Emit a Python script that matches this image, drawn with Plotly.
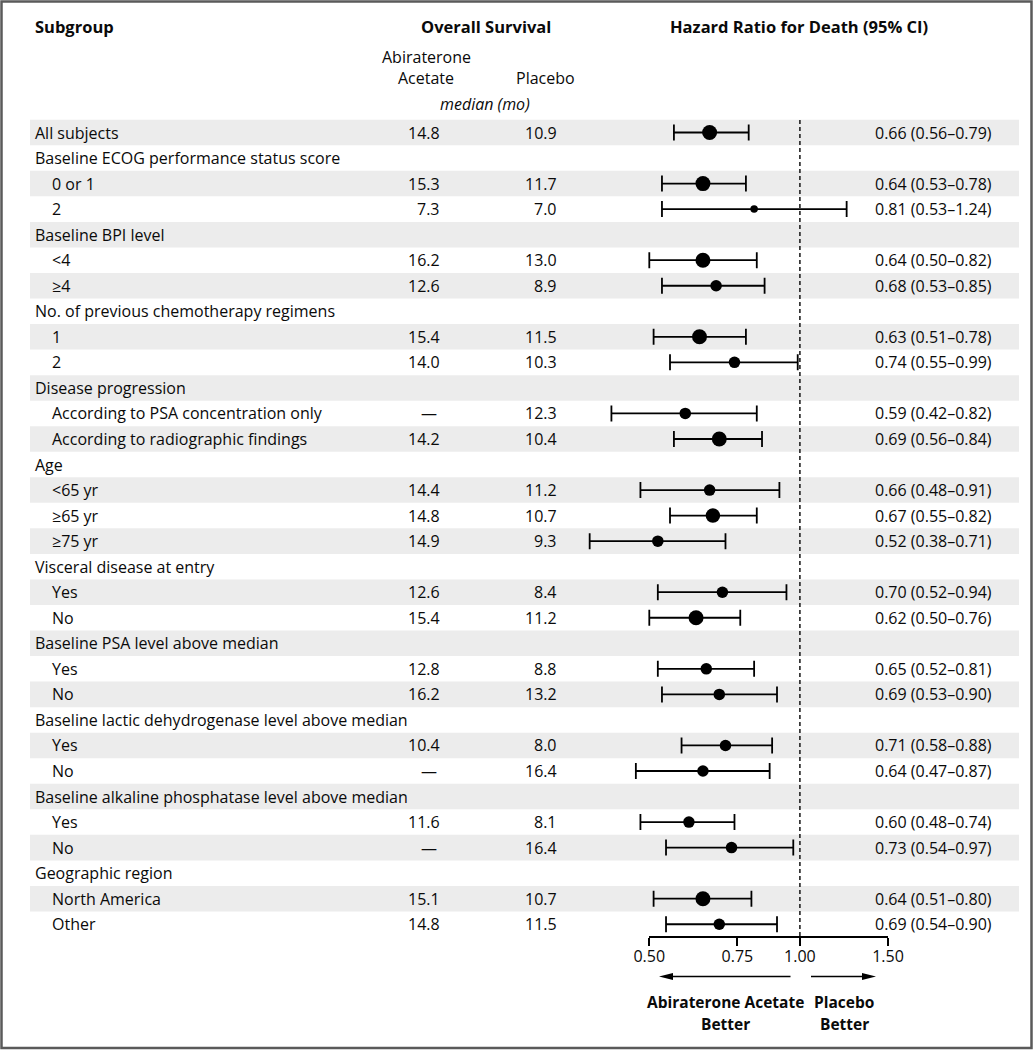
import math
import plotly.graph_objects as go

# ---------------- data ----------------
subgroups = [
    "All subjects",
    "Baseline ECOG performance status score", "0 or 1", "2",
    "Baseline BPI level", "<4", "≥4",
    "No. of previous chemotherapy regimens", "1", "2",
    "Disease progression", "According to PSA concentration only", "According to radiographic findings",
    "Age", "<65 yr", "≥65 yr", "≥75 yr",
    "Visceral disease at entry", "Yes", "No",
    "Baseline PSA level above median", "Yes", "No",
    "Baseline lactic dehydrogenase level above median", "Yes", "No",
    "Baseline alkaline phosphatase level above median", "Yes", "No",
    "Geographic region", "North America", "Other",
]
level = [0,
         0, 1, 1,
         0, 1, 1,
         0, 1, 1,
         0, 1, 1,
         0, 1, 1, 1,
         0, 1, 1,
         0, 1, 1,
         0, 1, 1,
         0, 1, 1,
         0, 1, 1]
abiraterone_median = [14.8,
                      None, 15.3, 7.3,
                      None, 16.2, 12.6,
                      None, 15.4, 14.0,
                      None, "—", 14.2,
                      None, 14.4, 14.8, 14.9,
                      None, 12.6, 15.4,
                      None, 12.8, 16.2,
                      None, 10.4, "—",
                      None, 11.6, "—",
                      None, 15.1, 14.8]
placebo_median = [10.9,
                  None, 11.7, 7.0,
                  None, 13.0, 8.9,
                  None, 11.5, 10.3,
                  None, 12.3, 10.4,
                  None, 11.2, 10.7, 9.3,
                  None, 8.4, 11.2,
                  None, 8.8, 13.2,
                  None, 8.0, 16.4,
                  None, 8.1, 16.4,
                  None, 10.7, 11.5]
hazard_ratio = [0.66,
                None, 0.64, 0.81,
                None, 0.64, 0.68,
                None, 0.63, 0.74,
                None, 0.59, 0.69,
                None, 0.66, 0.67, 0.52,
                None, 0.70, 0.62,
                None, 0.65, 0.69,
                None, 0.71, 0.64,
                None, 0.60, 0.73,
                None, 0.64, 0.69]
ci_low = [0.56,
          None, 0.53, 0.53,
          None, 0.50, 0.53,
          None, 0.51, 0.55,
          None, 0.42, 0.56,
          None, 0.48, 0.55, 0.38,
          None, 0.52, 0.50,
          None, 0.52, 0.53,
          None, 0.58, 0.47,
          None, 0.48, 0.54,
          None, 0.51, 0.54]
ci_high = [0.79,
           None, 0.78, 1.24,
           None, 0.82, 0.85,
           None, 0.78, 0.99,
           None, 0.82, 0.84,
           None, 0.91, 0.82, 0.71,
           None, 0.94, 0.76,
           None, 0.81, 0.90,
           None, 0.88, 0.87,
           None, 0.74, 0.97,
           None, 0.80, 0.90]
# marker diameter per row (style)
marker_px = [15,
             0, 15, 7.5,
             0, 15, 11.5,
             0, 15, 11.5,
             0, 11.5, 15,
             0, 11.5, 14.5, 11.5,
             0, 11.5, 15,
             0, 11.5, 11.5,
             0, 11.5, 11.5,
             0, 11.5, 11.5,
             0, 15, 11.5]

tick_values = [0.50, 0.75, 1.00, 1.50]
tick_labels = ["0.50", "0.75", "1.00", "1.50"]

# ---------------- geometry ----------------
W, H = 1033, 1050
ROW0_PX, ROW_STEP = 132.5, 25.54          # pixel centre of row 1, row pitch
X050_PX, X150_PX = 649.3, 888.0            # pixel positions of 0.50 and 1.50
AXIS_PX = 937.0

px_per_dec = (X150_PX - X050_PX) / (math.log10(1.5) - math.log10(0.5))
xr0 = math.log10(0.5) - X050_PX / px_per_dec
xr1 = math.log10(1.5) + (W - X150_PX) / px_per_dec
yr_top = 1 - ROW0_PX / ROW_STEP
yr_bot = 1 + (H - ROW0_PX) / ROW_STEP


def px(xp):
    return xp / W


def py(yp):
    return 1 - yp / H


FONT = "Open Sans"
INK = "#0a0a0a"
FS = 16
rows = list(range(1, len(subgroups) + 1))

fig = go.Figure()

# forest points
d_idx = [i for i in range(len(rows)) if hazard_ratio[i] is not None]
fig.add_trace(go.Scatter(
    x=[hazard_ratio[i] for i in d_idx],
    y=[rows[i] for i in d_idx],
    mode="markers",
    marker=dict(size=[marker_px[i] for i in d_idx], color="black", opacity=1,
                line=dict(width=0)),
    error_x=dict(type="data", symmetric=False,
                 array=[ci_high[i] - hazard_ratio[i] for i in d_idx],
                 arrayminus=[hazard_ratio[i] - ci_low[i] for i in d_idx],
                 color="black", thickness=1.8, width=8),
    hoverinfo="skip", showlegend=False,
))

# invisible trace to host the visible axis
fig.add_trace(go.Scatter(x=[0.5, 1.5], y=[rows[0], rows[0]], xaxis="x2", yaxis="y",
                         mode="markers", marker=dict(opacity=0), hoverinfo="skip",
                         showlegend=False))

shapes = []
# alternating stripes
for i, r in enumerate(rows):
    if r % 2 == 1:
        shapes.append(dict(type="rect", xref="paper", yref="y",
                           x0=px(30), x1=px(1019), y0=r - 0.5, y1=r + 0.5,
                           fillcolor="#ececec", line=dict(width=0), layer="below"))
# reference line at HR = 1
shapes.append(dict(type="line", xref="x", yref="paper", x0=1, x1=1,
                   y0=py(120), y1=py(AXIS_PX),
                   line=dict(color="#222222", width=1.6, dash="4px,3px")))
# arrows
ARW_Y = 976.5
shapes.append(dict(type="line", xref="paper", yref="paper",
                   x0=px(790.5), x1=px(670), y0=py(ARW_Y), y1=py(ARW_Y),
                   line=dict(color="black", width=1.5)))
shapes.append(dict(type="path", xref="paper", yref="paper",
                   path=f"M{px(659)},{py(ARW_Y)} L{px(673)},{py(ARW_Y - 3.5)} L{px(673)},{py(ARW_Y + 3.5)} Z",
                   fillcolor="black", line=dict(width=0)))
shapes.append(dict(type="line", xref="paper", yref="paper",
                   x0=px(811), x1=px(864), y0=py(ARW_Y), y1=py(ARW_Y),
                   line=dict(color="black", width=1.5)))
shapes.append(dict(type="path", xref="paper", yref="paper",
                   path=f"M{px(876)},{py(ARW_Y)} L{px(862)},{py(ARW_Y - 3.5)} L{px(862)},{py(ARW_Y + 3.5)} Z",
                   fillcolor="black", line=dict(width=0)))
# frame
shapes.append(dict(type="rect", xref="paper", yref="paper",
                   x0=px(1.5), x1=px(1031.5), y0=py(1.5), y1=py(1048),
                   line=dict(color="#5a5a5a", width=2.5), fillcolor="rgba(0,0,0,0)"))

ann = []


def text(x, y, s, xanchor="left", yref="y", size=FS, bold=False, italic=False):
    if bold:
        s = f"<b>{s}</b>"
    if italic:
        s = f"<i>{s}</i>"
    ann.append(dict(x=x, y=y, xref="paper", yref=yref, text=s, showarrow=False,
                    xanchor=xanchor, yanchor="middle",
                    font=dict(family=FONT, size=size, color=INK)))


def fmt(v):
    if v is None:
        return None
    if isinstance(v, str):
        return v
    return f"{v:.1f}"


for i, r in enumerate(rows):
    text(px(33 if level[i] == 0 else 50), r, subgroups[i])
    a = fmt(abiraterone_median[i])
    if a is not None:
        if a == "—":
            text(px(429), r, a, xanchor="center")
        else:
            text(px(442), r, a, xanchor="right")
    p = fmt(placebo_median[i])
    if p is not None:
        text(px(559), r, p, xanchor="right")
    if hazard_ratio[i] is not None:
        text(px(873), r, f"{hazard_ratio[i]:.2f} ({ci_low[i]:.2f}–{ci_high[i]:.2f})")

# column headers
text(px(33), py(27), "Subgroup", yref="paper", bold=True, size=16.5)
text(px(486), py(27), "Overall Survival", xanchor="center", yref="paper", bold=True, size=16.5)
text(px(798.5), py(27), "Hazard Ratio for Death (95% CI)", xanchor="center", yref="paper", bold=True, size=16.5)
text(px(426), py(57), "Abiraterone", xanchor="center", yref="paper")
text(px(426), py(78), "Acetate", xanchor="center", yref="paper")
text(px(545), py(78), "Placebo", xanchor="center", yref="paper")
text(px(485), py(104), "median (mo)", xanchor="center", yref="paper", italic=True)
# favour labels
text(px(725), py(1002), "Abiraterone Acetate", xanchor="center", yref="paper", bold=True, size=15.5)
text(px(725), py(1024), "Better", xanchor="center", yref="paper", bold=True, size=15.5)
text(px(844), py(1002), "Placebo", xanchor="center", yref="paper", bold=True, size=15.5)
text(px(844), py(1024), "Better", xanchor="center", yref="paper", bold=True, size=15.5)

fig.update_layout(
    width=W, height=H,
    margin=dict(l=0, r=0, t=0, b=0, autoexpand=False),
    paper_bgcolor="white", plot_bgcolor="rgba(0,0,0,0)",
    font=dict(family=FONT, size=FS, color=INK),
    xaxis=dict(type="log", range=[xr0, xr1], domain=[0, 1], visible=False,
               fixedrange=True, automargin=False),
    xaxis2=dict(type="log", range=[math.log10(0.5), math.log10(1.5)],
                domain=[px(X050_PX), px(X150_PX)], anchor="free", position=py(AXIS_PX),
                showline=True, linecolor="black", linewidth=1.5,
                ticks="outside", ticklen=8, tickwidth=1.5, tickcolor="black",
                tickvals=tick_values, ticktext=tick_labels, ticklabelstandoff=-3,
                tickfont=dict(family=FONT, size=FS, color=INK),
                showgrid=False, zeroline=False, fixedrange=True, automargin=False),
    yaxis=dict(range=[yr_bot, yr_top], visible=False, fixedrange=True, automargin=False),
    shapes=shapes, annotations=ann,
)

fig.write_html("out.html", config={"displayModeBar": False},
               post_script="document.body.style.margin='0';document.body.style.overflow='hidden';")
